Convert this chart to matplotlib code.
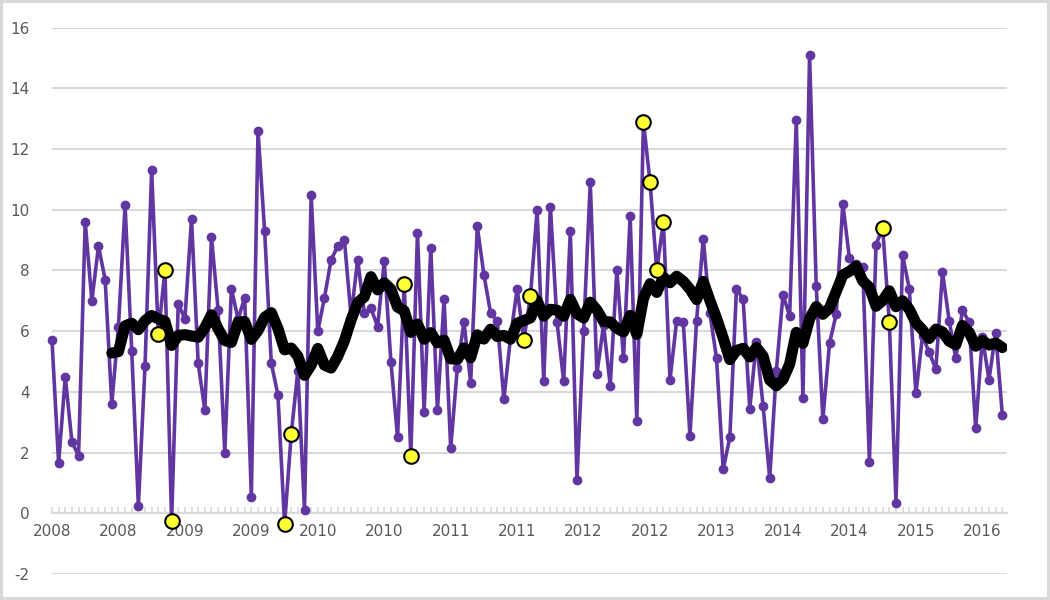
import matplotlib
matplotlib.use("Agg")
import matplotlib.pyplot as plt
import numpy as np
import pandas as pd

plt.rcParams["axes.unicode_minus"] = False

# series values, one per category
values = [
    5.7, 1.65, 4.5, 2.35, 1.9, 9.6, 7.0, 8.8, 7.7, 3.6,
    6.15, 10.15, 5.35, 0.25, 4.85, 11.3, 5.9, 8.0, -0.25, 6.9,
    6.4, 9.7, 4.95, 3.4, 9.1, 6.7, 2.0, 7.4, 6.4, 7.1,
    0.55, 12.6, 9.3, 4.95, 3.9, -0.35, 2.6, 4.7, 0.1, 10.5,
    6.0, 7.1, 8.35, 8.8, 9.0, 6.5, 8.35, 6.6, 6.75, 6.15,
    8.3, 5.0, 2.5, 7.55, 1.9, 9.25, 3.35, 8.75, 3.4, 7.05,
    2.15, 4.8, 6.3, 4.3, 9.45, 7.85, 6.6, 6.35, 3.75, 5.8,
    7.4, 5.7, 7.15, 10.0, 4.35, 10.1, 6.3, 4.35, 9.3, 1.1,
    6.0, 10.9, 4.6, 6.2, 4.2, 8.0, 5.1, 9.8, 3.05, 12.9,
    10.9, 8.0, 9.6, 4.4, 6.35, 6.3, 2.55, 6.35, 9.05, 6.6,
    5.1, 1.45, 2.5, 7.4, 7.05, 3.45, 5.65, 3.55, 1.15, 4.7,
    7.2, 6.5, 12.95, 3.8, 15.1, 7.5, 3.1, 5.6, 6.55, 10.2,
    8.4, 8.2, 8.1, 1.7, 8.85, 9.4, 6.3, 0.35, 8.5, 7.4,
    3.95, 5.85, 5.3, 4.75, 7.95, 6.35, 5.1, 6.7, 6.3, 2.8,
    5.8, 4.4, 5.95, 3.25,
]
highlight_idx = [16, 17, 18, 35, 36, 53, 54, 71, 72, 89, 90, 91, 92, 125, 126]
tick_labels = ["2008", "2008", "2009", "2009", "2010", "2010", "2011", "2011",
               "2012", "2012", "2013", "2014", "2014", "2015", "2016"]
MA_WINDOW = 10

PURPLE = "#6136a0"
YELLOW = "#ffff33"
GRID = "#d9d9d9"
INK = "#595959"

s = pd.Series(values)
x = np.arange(len(s))
ma = s.rolling(MA_WINDOW).mean()

fig = plt.figure(figsize=(10.5, 6), dpi=100)
fig.patch.set_facecolor("white")
fig.patch.set_edgecolor(GRID)
fig.patch.set_linewidth(3)
ax = fig.add_axes([0.0495, 0.0433, 0.9095, 0.9107])

ax.plot(x, s, color=PURPLE, lw=2.6, marker="o", ms=6, mec=PURPLE,
        mfc=PURPLE, zorder=3, clip_on=False)
ax.plot(x, ma, color="black", lw=8, solid_joinstyle="round",
        solid_capstyle="round", zorder=4)
hx = np.array(highlight_idx)
ax.plot(hx, s.iloc[hx], ls="none", marker="o", ms=10.5, mfc=YELLOW, mec="black",
        mew=1.5, zorder=5, clip_on=False)

ax.set_xlim(0, 143.7)
ax.set_ylim(-2, 16)
ax.set_yticks(np.arange(-2, 17, 2))
ax.yaxis.grid(True, color=GRID, lw=1.5, zorder=0)
ax.set_axisbelow(True)

for sp in ("top", "right", "left"):
    ax.spines[sp].set_visible(False)
ax.spines["bottom"].set_position(("data", 0))
ax.spines["bottom"].set_color(GRID)
ax.spines["bottom"].set_linewidth(1.5)

ax.set_xticks(np.arange(0, len(s), 10))
ax.set_xticklabels(tick_labels)
ax.set_xticks(x, minor=True)
ax.tick_params(axis="x", which="both", direction="in", length=4, color=GRID,
               width=1.2, pad=8, labelsize=11, labelcolor=INK)
ax.tick_params(axis="y", length=0, pad=16, labelsize=11, labelcolor=INK)

fig.savefig("out.png", dpi=100)
